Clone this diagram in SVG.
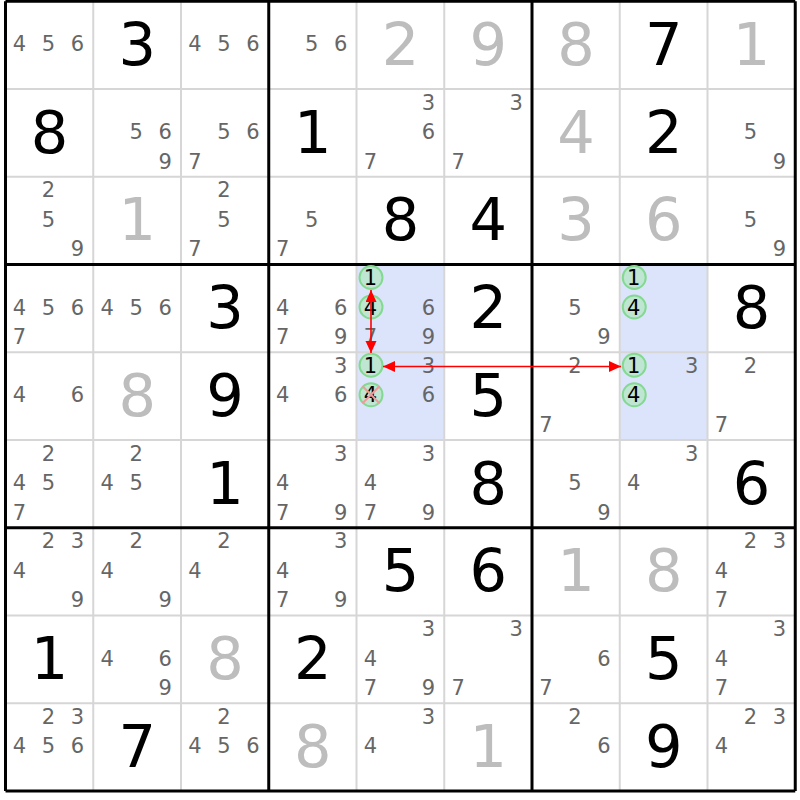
<svg xmlns="http://www.w3.org/2000/svg" width="800" height="800" viewBox="0 0 800 800">
<style>
text{font-family:"DejaVu Sans","Liberation Sans",sans-serif;text-anchor:middle}
.c{font-size:21px;fill:#666666}
.k{font-size:21px;fill:#000000}
.s{font-size:59px;fill:#000000}
.g{font-size:59px;fill:#bdbdbd}
.hl{fill:#dbe4fb}
.thin{stroke:#d6d6d6;stroke-width:2;fill:none}
.thick{stroke:#000000;stroke-width:3;fill:none}
.ring{fill:#bfe5d3;stroke:#84d990;stroke-width:2}
.x{stroke:#f29a9a;stroke-width:2}
.arrow{stroke:#ff0000;stroke-width:1.6;fill:none;marker-start:url(#ah);marker-end:url(#ah)}
</style>
<defs>
<marker id="ah" markerUnits="userSpaceOnUse" markerWidth="13" markerHeight="12" refX="12" refY="5.5" orient="auto-start-reverse">
<path d="M0,0 L12,5.5 L0,11 z" fill="#ff0000"/>
</marker>
</defs>
<rect width="800" height="800" fill="#ffffff"/>
<g id="highlights">
<rect class="hl" x="356.5" y="264.5" width="87.75" height="175.5"/>
<rect class="hl" x="619.75" y="264.5" width="87.75" height="175.5"/>
</g>
<g id="grid">
<path class="thin" d="M93.25,1.25V791M181,1.25V791M356.5,1.25V791M444.25,1.25V791M619.75,1.25V791M707.5,1.25V791M5.5,89H795.25M5.5,176.75H795.25M5.5,352.25H795.25M5.5,440H795.25M5.5,615.5H795.25M5.5,703.25H795.25"/>
<path class="thick" d="M5.5,1.25V791M268.75,1.25V791M532,1.25V791M795.25,1.25V791M5.5,1.25H795.25M5.5,264.5H795.25M5.5,527.75H795.25M5.5,791H795.25"/>
</g>
<g id="r0c0" transform="translate(5.5,1.25)"><text class="c" x="14" y="50">4</text><text class="c" x="43" y="50">5</text><text class="c" x="72" y="50">6</text></g>
<g id="r0c1" transform="translate(93.25,1.25)"><text class="s" x="43.9" y="63.5">3</text></g>
<g id="r0c2" transform="translate(181,1.25)"><text class="c" x="14" y="50">4</text><text class="c" x="43" y="50">5</text><text class="c" x="72" y="50">6</text></g>
<g id="r0c3" transform="translate(268.75,1.25)"><text class="c" x="43" y="50">5</text><text class="c" x="72" y="50">6</text></g>
<g id="r0c4" transform="translate(356.5,1.25)"><text class="g" x="43.9" y="63.5">2</text></g>
<g id="r0c5" transform="translate(444.25,1.25)"><text class="g" x="43.9" y="63.5">9</text></g>
<g id="r0c6" transform="translate(532,1.25)"><text class="g" x="43.9" y="63.5">8</text></g>
<g id="r0c7" transform="translate(619.75,1.25)"><text class="s" x="43.9" y="63.5">7</text></g>
<g id="r0c8" transform="translate(707.5,1.25)"><text class="g" x="43.9" y="63.5">1</text></g>

<g id="r1c0" transform="translate(5.5,89)"><text class="s" x="43.9" y="63.5">8</text></g>
<g id="r1c1" transform="translate(93.25,89)"><text class="c" x="43" y="50">5</text><text class="c" x="72" y="50">6</text><text class="c" x="72" y="79.5">9</text></g>
<g id="r1c2" transform="translate(181,89)"><text class="c" x="43" y="50">5</text><text class="c" x="72" y="50">6</text><text class="c" x="14" y="79.5">7</text></g>
<g id="r1c3" transform="translate(268.75,89)"><text class="s" x="43.9" y="63.5">1</text></g>
<g id="r1c4" transform="translate(356.5,89)"><text class="c" x="72" y="20.5">3</text><text class="c" x="72" y="50">6</text><text class="c" x="14" y="79.5">7</text></g>
<g id="r1c5" transform="translate(444.25,89)"><text class="c" x="72" y="20.5">3</text><text class="c" x="14" y="79.5">7</text></g>
<g id="r1c6" transform="translate(532,89)"><text class="g" x="43.9" y="63.5">4</text></g>
<g id="r1c7" transform="translate(619.75,89)"><text class="s" x="43.9" y="63.5">2</text></g>
<g id="r1c8" transform="translate(707.5,89)"><text class="c" x="43" y="50">5</text><text class="c" x="72" y="79.5">9</text></g>

<g id="r2c0" transform="translate(5.5,176.75)"><text class="c" x="43" y="20.5">2</text><text class="c" x="43" y="50">5</text><text class="c" x="72" y="79.5">9</text></g>
<g id="r2c1" transform="translate(93.25,176.75)"><text class="g" x="43.9" y="63.5">1</text></g>
<g id="r2c2" transform="translate(181,176.75)"><text class="c" x="43" y="20.5">2</text><text class="c" x="43" y="50">5</text><text class="c" x="14" y="79.5">7</text></g>
<g id="r2c3" transform="translate(268.75,176.75)"><text class="c" x="43" y="50">5</text><text class="c" x="14" y="79.5">7</text></g>
<g id="r2c4" transform="translate(356.5,176.75)"><text class="s" x="43.9" y="63.5">8</text></g>
<g id="r2c5" transform="translate(444.25,176.75)"><text class="s" x="43.9" y="63.5">4</text></g>
<g id="r2c6" transform="translate(532,176.75)"><text class="g" x="43.9" y="63.5">3</text></g>
<g id="r2c7" transform="translate(619.75,176.75)"><text class="g" x="43.9" y="63.5">6</text></g>
<g id="r2c8" transform="translate(707.5,176.75)"><text class="c" x="43" y="50">5</text><text class="c" x="72" y="79.5">9</text></g>

<g id="r3c0" transform="translate(5.5,264.5)"><text class="c" x="14" y="50">4</text><text class="c" x="43" y="50">5</text><text class="c" x="72" y="50">6</text><text class="c" x="14" y="79.5">7</text></g>
<g id="r3c1" transform="translate(93.25,264.5)"><text class="c" x="14" y="50">4</text><text class="c" x="43" y="50">5</text><text class="c" x="72" y="50">6</text></g>
<g id="r3c2" transform="translate(181,264.5)"><text class="s" x="43.9" y="63.5">3</text></g>
<g id="r3c3" transform="translate(268.75,264.5)"><text class="c" x="14" y="50">4</text><text class="c" x="72" y="50">6</text><text class="c" x="14" y="79.5">7</text><text class="c" x="72" y="79.5">9</text></g>
<g id="r3c4" transform="translate(356.5,264.5)"><circle class="ring" cx="14.5" cy="13" r="11.5"/><circle class="ring" cx="14.5" cy="42.5" r="11.5"/><text class="k" x="14" y="20.5">1</text><text class="k" x="14" y="50">4</text><text class="c" x="72" y="50">6</text><text class="c" x="14" y="79.5">7</text><text class="c" x="72" y="79.5">9</text></g>
<g id="r3c5" transform="translate(444.25,264.5)"><text class="s" x="43.9" y="63.5">2</text></g>
<g id="r3c6" transform="translate(532,264.5)"><text class="c" x="43" y="50">5</text><text class="c" x="72" y="79.5">9</text></g>
<g id="r3c7" transform="translate(619.75,264.5)"><circle class="ring" cx="14.5" cy="13" r="11.5"/><circle class="ring" cx="14.5" cy="42.5" r="11.5"/><text class="k" x="14" y="20.5">1</text><text class="k" x="14" y="50">4</text></g>
<g id="r3c8" transform="translate(707.5,264.5)"><text class="s" x="43.9" y="63.5">8</text></g>

<g id="r4c0" transform="translate(5.5,352.25)"><text class="c" x="14" y="50">4</text><text class="c" x="72" y="50">6</text></g>
<g id="r4c1" transform="translate(93.25,352.25)"><text class="g" x="43.9" y="63.5">8</text></g>
<g id="r4c2" transform="translate(181,352.25)"><text class="s" x="43.9" y="63.5">9</text></g>
<g id="r4c3" transform="translate(268.75,352.25)"><text class="c" x="72" y="20.5">3</text><text class="c" x="14" y="50">4</text><text class="c" x="72" y="50">6</text></g>
<g id="r4c4" transform="translate(356.5,352.25)"><circle class="ring" cx="14.5" cy="13" r="11.5"/><circle class="ring" cx="14.5" cy="42.5" r="11.5"/><text class="k" x="14" y="20.5">1</text><text class="c" x="72" y="20.5">3</text><text class="k" x="14" y="50">4</text><path class="x" d="M6,34L23,51M23,34L6,51"/><text class="c" x="72" y="50">6</text></g>
<g id="r4c5" transform="translate(444.25,352.25)"><text class="s" x="43.9" y="63.5">5</text></g>
<g id="r4c6" transform="translate(532,352.25)"><text class="c" x="43" y="20.5">2</text><text class="c" x="14" y="79.5">7</text></g>
<g id="r4c7" transform="translate(619.75,352.25)"><circle class="ring" cx="14.5" cy="13" r="11.5"/><circle class="ring" cx="14.5" cy="42.5" r="11.5"/><text class="k" x="14" y="20.5">1</text><text class="c" x="72" y="20.5">3</text><text class="k" x="14" y="50">4</text></g>
<g id="r4c8" transform="translate(707.5,352.25)"><text class="c" x="43" y="20.5">2</text><text class="c" x="14" y="79.5">7</text></g>

<g id="r5c0" transform="translate(5.5,440)"><text class="c" x="43" y="20.5">2</text><text class="c" x="14" y="50">4</text><text class="c" x="43" y="50">5</text><text class="c" x="14" y="79.5">7</text></g>
<g id="r5c1" transform="translate(93.25,440)"><text class="c" x="43" y="20.5">2</text><text class="c" x="14" y="50">4</text><text class="c" x="43" y="50">5</text></g>
<g id="r5c2" transform="translate(181,440)"><text class="s" x="43.9" y="63.5">1</text></g>
<g id="r5c3" transform="translate(268.75,440)"><text class="c" x="72" y="20.5">3</text><text class="c" x="14" y="50">4</text><text class="c" x="14" y="79.5">7</text><text class="c" x="72" y="79.5">9</text></g>
<g id="r5c4" transform="translate(356.5,440)"><text class="c" x="72" y="20.5">3</text><text class="c" x="14" y="50">4</text><text class="c" x="14" y="79.5">7</text><text class="c" x="72" y="79.5">9</text></g>
<g id="r5c5" transform="translate(444.25,440)"><text class="s" x="43.9" y="63.5">8</text></g>
<g id="r5c6" transform="translate(532,440)"><text class="c" x="43" y="50">5</text><text class="c" x="72" y="79.5">9</text></g>
<g id="r5c7" transform="translate(619.75,440)"><text class="c" x="72" y="20.5">3</text><text class="c" x="14" y="50">4</text></g>
<g id="r5c8" transform="translate(707.5,440)"><text class="s" x="43.9" y="63.5">6</text></g>

<g id="r6c0" transform="translate(5.5,527.75)"><text class="c" x="43" y="20.5">2</text><text class="c" x="72" y="20.5">3</text><text class="c" x="14" y="50">4</text><text class="c" x="72" y="79.5">9</text></g>
<g id="r6c1" transform="translate(93.25,527.75)"><text class="c" x="43" y="20.5">2</text><text class="c" x="14" y="50">4</text><text class="c" x="72" y="79.5">9</text></g>
<g id="r6c2" transform="translate(181,527.75)"><text class="c" x="43" y="20.5">2</text><text class="c" x="14" y="50">4</text></g>
<g id="r6c3" transform="translate(268.75,527.75)"><text class="c" x="72" y="20.5">3</text><text class="c" x="14" y="50">4</text><text class="c" x="14" y="79.5">7</text><text class="c" x="72" y="79.5">9</text></g>
<g id="r6c4" transform="translate(356.5,527.75)"><text class="s" x="43.9" y="63.5">5</text></g>
<g id="r6c5" transform="translate(444.25,527.75)"><text class="s" x="43.9" y="63.5">6</text></g>
<g id="r6c6" transform="translate(532,527.75)"><text class="g" x="43.9" y="63.5">1</text></g>
<g id="r6c7" transform="translate(619.75,527.75)"><text class="g" x="43.9" y="63.5">8</text></g>
<g id="r6c8" transform="translate(707.5,527.75)"><text class="c" x="43" y="20.5">2</text><text class="c" x="72" y="20.5">3</text><text class="c" x="14" y="50">4</text><text class="c" x="14" y="79.5">7</text></g>

<g id="r7c0" transform="translate(5.5,615.5)"><text class="s" x="43.9" y="63.5">1</text></g>
<g id="r7c1" transform="translate(93.25,615.5)"><text class="c" x="14" y="50">4</text><text class="c" x="72" y="50">6</text><text class="c" x="72" y="79.5">9</text></g>
<g id="r7c2" transform="translate(181,615.5)"><text class="g" x="43.9" y="63.5">8</text></g>
<g id="r7c3" transform="translate(268.75,615.5)"><text class="s" x="43.9" y="63.5">2</text></g>
<g id="r7c4" transform="translate(356.5,615.5)"><text class="c" x="72" y="20.5">3</text><text class="c" x="14" y="50">4</text><text class="c" x="14" y="79.5">7</text><text class="c" x="72" y="79.5">9</text></g>
<g id="r7c5" transform="translate(444.25,615.5)"><text class="c" x="72" y="20.5">3</text><text class="c" x="14" y="79.5">7</text></g>
<g id="r7c6" transform="translate(532,615.5)"><text class="c" x="72" y="50">6</text><text class="c" x="14" y="79.5">7</text></g>
<g id="r7c7" transform="translate(619.75,615.5)"><text class="s" x="43.9" y="63.5">5</text></g>
<g id="r7c8" transform="translate(707.5,615.5)"><text class="c" x="72" y="20.5">3</text><text class="c" x="14" y="50">4</text><text class="c" x="14" y="79.5">7</text></g>

<g id="r8c0" transform="translate(5.5,703.25)"><text class="c" x="43" y="20.5">2</text><text class="c" x="72" y="20.5">3</text><text class="c" x="14" y="50">4</text><text class="c" x="43" y="50">5</text><text class="c" x="72" y="50">6</text></g>
<g id="r8c1" transform="translate(93.25,703.25)"><text class="s" x="43.9" y="63.5">7</text></g>
<g id="r8c2" transform="translate(181,703.25)"><text class="c" x="43" y="20.5">2</text><text class="c" x="14" y="50">4</text><text class="c" x="43" y="50">5</text><text class="c" x="72" y="50">6</text></g>
<g id="r8c3" transform="translate(268.75,703.25)"><text class="g" x="43.9" y="63.5">8</text></g>
<g id="r8c4" transform="translate(356.5,703.25)"><text class="c" x="72" y="20.5">3</text><text class="c" x="14" y="50">4</text></g>
<g id="r8c5" transform="translate(444.25,703.25)"><text class="g" x="43.9" y="63.5">1</text></g>
<g id="r8c6" transform="translate(532,703.25)"><text class="c" x="43" y="20.5">2</text><text class="c" x="72" y="50">6</text></g>
<g id="r8c7" transform="translate(619.75,703.25)"><text class="s" x="43.9" y="63.5">9</text></g>
<g id="r8c8" transform="translate(707.5,703.25)"><text class="c" x="43" y="20.5">2</text><text class="c" x="72" y="20.5">3</text><text class="c" x="14" y="50">4</text></g>

<g id="connectors">
<line class="arrow" x1="371" y1="290" x2="371" y2="353"/>
<line class="arrow" x1="383" y1="366.5" x2="621" y2="366.5"/>
</g>
</svg>
